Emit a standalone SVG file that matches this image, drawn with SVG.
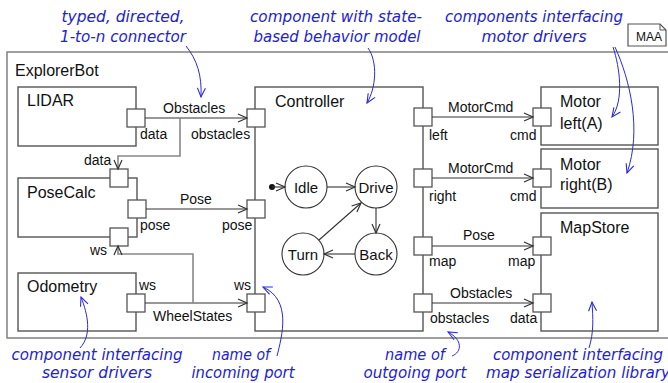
<svg xmlns="http://www.w3.org/2000/svg" width="668" height="383" viewBox="0 0 668 383">
<defs>
<marker id="arr" markerUnits="userSpaceOnUse" markerWidth="12" markerHeight="12" refX="10" refY="5" orient="auto" viewBox="0 0 12 10">
<path d="M1,1 L10,5 L1,9" fill="none" stroke="#333" stroke-width="1.2"/>
</marker>
<marker id="barr" markerUnits="userSpaceOnUse" markerWidth="12" markerHeight="12" refX="10" refY="5" orient="auto" viewBox="0 0 12 10">
<path d="M1,1 L10,5 L1,9" fill="none" stroke="#2a2ad8" stroke-width="1.1"/>
</marker>
</defs>
<style>
.box{fill:#fff;stroke:#555;stroke-width:1.4}
.port{fill:#fff;stroke:#555;stroke-width:1.3}
.frame{fill:#fff;stroke:#888;stroke-width:1.6}
.title{font-family:"Liberation Sans",Arial,sans-serif;font-size:16px;fill:#111}
.lbl{font-family:"Liberation Sans",Arial,sans-serif;font-size:14px;fill:#111}
.con{fill:none;stroke:#333;stroke-width:1.1;marker-end:url(#arr)}
.br{fill:none;stroke:#888;stroke-width:1.6;marker-end:url(#arr)}
.st{fill:#fff;stroke:#333;stroke-width:1.1}
.stl{font-family:"Liberation Sans",Arial,sans-serif;font-size:15px;fill:#111;text-anchor:middle}
.ann{font-family:"DejaVu Sans",sans-serif;font-style:italic;font-size:15px;fill:#2222d4;text-anchor:middle}
.al{fill:none;stroke:#2a2ad8;stroke-width:1;marker-end:url(#barr)}
</style>
<rect width="668" height="383" fill="#fff"/>
<g id="ExplorerBot">
<rect class="frame" x="7" y="52" width="680" height="286"/>
<text class="title" x="15" y="76">ExplorerBot</text>
</g>
<g id="MAA">
<path d="M628,24 L660,24 L666,30 L666,46 L628,46 Z" fill="#fff" stroke="#555" stroke-width="1.2"/>
<path d="M660,24 L660,30 L666,30" fill="none" stroke="#555" stroke-width="1"/>
<text x="636" y="41" font-family="Liberation Sans,Arial,sans-serif" font-size="12" fill="#111">MAA</text>
</g>
<g id="LIDAR">
<rect class="box" x="18" y="87" width="118" height="59"/>
<text class="title" x="27" y="106">LIDAR</text>
<rect class="port" x="127" y="109" width="18" height="18"/>
<text class="lbl" x="140" y="139">data</text>
</g>
<g id="PoseCalc">
<rect class="box" x="18" y="178" width="119" height="59"/>
<text class="title" x="27" y="198">PoseCalc</text>
<rect class="port" x="110" y="169" width="18" height="18"/>
<text class="lbl" x="84" y="165">data</text>
<rect class="port" x="128" y="200" width="18" height="18"/>
<text class="lbl" x="140" y="230">pose</text>
<rect class="port" x="110" y="228" width="18" height="18"/>
<text class="lbl" x="90" y="255">ws</text>
</g>
<g id="Odometry">
<rect class="box" x="18" y="273" width="118" height="58"/>
<text class="title" x="27" y="292">Odometry</text>
<rect class="port" x="127" y="294" width="18" height="18"/>
<text class="lbl" x="139" y="290">ws</text>
</g>
<g id="Controller">
<rect class="box" x="255" y="87" width="168" height="244"/>
<text class="title" x="275" y="107">Controller</text>
<rect class="port" x="247" y="109" width="18" height="18"/>
<text class="lbl" x="191" y="139">obstacles</text>
<rect class="port" x="247" y="200" width="18" height="18"/>
<text class="lbl" x="222" y="230">pose</text>
<rect class="port" x="247" y="294" width="18" height="18"/>
<text class="lbl" x="234" y="290">ws</text>
<rect class="port" x="414" y="108" width="18" height="18"/>
<text class="lbl" x="429" y="140">left</text>
<rect class="port" x="414" y="169" width="18" height="18"/>
<text class="lbl" x="429" y="201">right</text>
<rect class="port" x="414" y="237" width="18" height="18"/>
<text class="lbl" x="429" y="266">map</text>
<rect class="port" x="414" y="294" width="18" height="18"/>
<text class="lbl" x="430" y="323">obstacles</text>
</g>
<g id="Idle"><circle class="st" cx="306" cy="187" r="21"/><text class="stl" x="306" y="193">Idle</text></g>
<g id="Drive"><circle class="st" cx="376" cy="187" r="21"/><text class="stl" x="376" y="193">Drive</text></g>
<g id="Turn"><circle class="st" cx="303" cy="254" r="21"/><text class="stl" x="303" y="260">Turn</text></g>
<g id="Back"><circle class="st" cx="376" cy="254" r="21"/><text class="stl" x="376" y="260">Back</text></g>
<g id="MotorLeft">
<rect class="box" x="541" y="87" width="117" height="58"/>
<text class="title" x="560" y="107">Motor</text>
<text class="title" x="560" y="129">left(A)</text>
<rect class="port" x="533" y="108" width="18" height="18"/>
<text class="lbl" x="510" y="140">cmd</text>
</g>
<g id="MotorRight">
<rect class="box" x="541" y="149" width="117" height="59"/>
<text class="title" x="560" y="170">Motor</text>
<text class="title" x="560" y="190">right(B)</text>
<rect class="port" x="533" y="169" width="18" height="18"/>
<text class="lbl" x="510" y="201">cmd</text>
</g>
<g id="MapStore">
<rect class="box" x="541" y="213" width="117" height="118"/>
<text class="title" x="560" y="233">MapStore</text>
<rect class="port" x="533" y="237" width="18" height="18"/>
<text class="lbl" x="508" y="266">map</text>
<rect class="port" x="533" y="294" width="18" height="18"/>
<text class="lbl" x="510" y="323">data</text>
</g>
<g id="connectors">
<line class="con" x1="145" y1="118" x2="247" y2="118"/>
<text class="lbl" x="163" y="113">Obstacles</text>
<polyline class="br" points="180,118 180,156 118,156 118,169"/>
<line class="con" x1="146" y1="209" x2="247" y2="209"/>
<text class="lbl" x="180" y="204">Pose</text>
<line class="con" x1="145" y1="303" x2="247" y2="303"/>
<text class="lbl" x="153" y="321">WheelStates</text>
<polyline class="br" points="193,303 193,254 118,254 118,246"/>
<line class="con" x1="432" y1="117" x2="533" y2="117"/>
<text class="lbl" x="448" y="112">MotorCmd</text>
<line class="con" x1="432" y1="178" x2="533" y2="178"/>
<text class="lbl" x="448" y="173">MotorCmd</text>
<line class="con" x1="432" y1="246" x2="533" y2="246"/>
<text class="lbl" x="463" y="240">Pose</text>
<line class="con" x1="432" y1="303" x2="533" y2="303"/>
<text class="lbl" x="450" y="298">Obstacles</text>
<circle cx="272" cy="187" r="3" fill="#111"/>
<line class="con" x1="272" y1="187" x2="285" y2="187"/>
<line class="con" x1="327" y1="187" x2="355" y2="187"/>
<line class="con" x1="376" y1="208" x2="376" y2="233"/>
<line class="con" x1="355" y1="254" x2="324" y2="254"/>
<line class="con" x1="319" y1="240" x2="361" y2="203"/>
</g>
<g id="annotations">
<text class="ann" x="123" y="22" textLength="123" lengthAdjust="spacingAndGlyphs">typed, directed,</text>
<text class="ann" x="123" y="42" textLength="126" lengthAdjust="spacingAndGlyphs">1-to-n connector</text>
<path class="al" d="M186,46 C197,60 202,75 201,97"/>
<text class="ann" x="336" y="22" textLength="172" lengthAdjust="spacingAndGlyphs">component with state-</text>
<text class="ann" x="337" y="42" textLength="167" lengthAdjust="spacingAndGlyphs">based behavior model</text>
<path class="al" d="M368,48 C378,62 376,88 367,103"/>
<text class="ann" x="534" y="22" textLength="178" lengthAdjust="spacingAndGlyphs">components interfacing</text>
<text class="ann" x="534" y="42" textLength="105" lengthAdjust="spacingAndGlyphs">motor drivers</text>
<path class="al" d="M613,47 C620,68 624,100 612,117"/>
<path class="al" d="M615,47 C630,80 642,130 627,173"/>
<text class="ann" x="97" y="360" textLength="171" lengthAdjust="spacingAndGlyphs">component interfacing</text>
<text class="ann" x="97" y="378" textLength="110" lengthAdjust="spacingAndGlyphs">sensor drivers</text>
<path class="al" d="M80,348 C92,335 88,315 81,297"/>
<text class="ann" x="241" y="360" textLength="58" lengthAdjust="spacingAndGlyphs">name of</text>
<text class="ann" x="243" y="378" textLength="103" lengthAdjust="spacingAndGlyphs">incoming port</text>
<path class="al" d="M277,356 C282,336 292,300 263,287"/>
<text class="ann" x="415" y="360" textLength="60" lengthAdjust="spacingAndGlyphs">name of</text>
<text class="ann" x="415" y="378" textLength="103" lengthAdjust="spacingAndGlyphs">outgoing port</text>
<path class="al" d="M452,356 C462,352 463,340 448,332"/>
<text class="ann" x="578" y="360" textLength="170" lengthAdjust="spacingAndGlyphs">component interfacing</text>
<text class="ann" x="578" y="378" textLength="184" lengthAdjust="spacingAndGlyphs">map serialization library</text>
<path class="al" d="M589,348 C594,332 593,318 592,302"/>
</g>
</svg>
